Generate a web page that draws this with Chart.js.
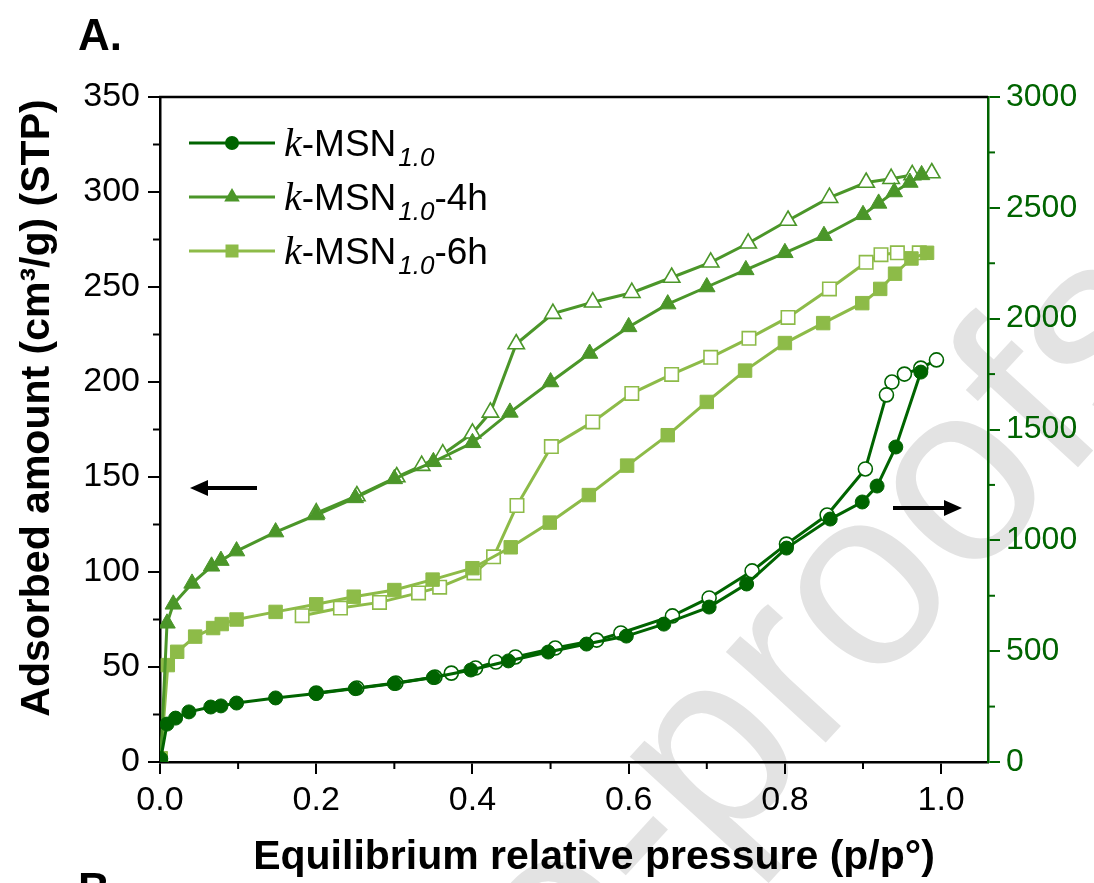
<!DOCTYPE html>
<html>
<head>
<meta charset="utf-8">
<script src="https://cdn.jsdelivr.net/npm/chart.js@4.4.0/dist/chart.umd.min.js"></script>
<style>
  html, body { margin: 0; padding: 0; background: #fff; }
  #wrap { width: 1094px; height: 883px; }
</style>
</head>
<body>
<div id="wrap"><canvas id="chart" width="1094" height="883"></canvas></div>
<script>
// Series data (p/p0 vs adsorbed amount)

// k-MSN1.0, plotted on the right axis
const msnAdsP = [0.001, 0.009, 0.02, 0.037, 0.065, 0.078, 0.098, 0.148, 0.2, 0.25, 0.3, 0.35, 0.398, 0.446, 0.497, 0.546, 0.597, 0.645, 0.703, 0.751, 0.802, 0.858, 0.899, 0.918, 0.942, 0.974];
const msnAdsV = [15, 171, 198, 226, 248, 253, 266, 289, 309, 331, 354, 381, 415, 456, 496, 532, 568, 622, 699, 803, 965, 1096, 1173, 1245, 1421, 1759];
const msnDesP = [0.994, 0.974, 0.953, 0.937, 0.930, 0.903, 0.854, 0.802, 0.758, 0.703, 0.656, 0.590, 0.559, 0.506, 0.455, 0.430, 0.404, 0.373, 0.352, 0.302, 0.252, 0.2];
const msnDesV = [1814, 1777, 1750, 1714, 1656, 1322, 1114, 983, 862, 740, 659, 582, 550, 514, 474, 451, 424, 401, 383, 356, 334, 311];

// k-MSN1.0-4h, left axis
const h4AdsP = [0.001, 0.009, 0.017, 0.041, 0.066, 0.078, 0.098, 0.148, 0.2, 0.25, 0.3, 0.35, 0.40, 0.448, 0.5, 0.55, 0.6, 0.65, 0.7, 0.75, 0.8, 0.85, 0.9, 0.92, 0.94, 0.96, 0.975];
const h4AdsV = [2, 73, 83, 94, 103, 106, 111, 121, 130, 139, 149, 158, 168, 184, 200, 215, 229, 241, 250, 259, 268, 277, 288, 294, 300, 305, 309];
const h4DesP = [0.988, 0.963, 0.936, 0.904, 0.857, 0.804, 0.753, 0.705, 0.655, 0.604, 0.554, 0.503, 0.456, 0.423, 0.40, 0.362, 0.335, 0.303, 0.252, 0.2];
const h4DesV = [310, 309, 307, 305, 297, 285, 273, 263, 255, 247, 242, 236, 220, 184, 173, 162, 156, 150, 140, 131];

// k-MSN1.0-6h, left axis
const h6AdsP = [0.001, 0.010, 0.022, 0.045, 0.068, 0.079, 0.098, 0.148, 0.2, 0.248, 0.3, 0.349, 0.4, 0.449, 0.499, 0.549, 0.598, 0.65, 0.7, 0.749, 0.8, 0.849, 0.899, 0.922, 0.941, 0.962, 0.982];
const h6AdsV = [2, 51, 58, 66, 70.5, 72.6, 75, 79, 83, 87, 90.5, 96, 102, 113, 126, 140.5, 156, 172, 189.5, 206, 220.5, 231, 241.5, 249, 257, 265, 268];
const h6DesP = [0.972, 0.944, 0.923, 0.904, 0.857, 0.804, 0.754, 0.705, 0.655, 0.604, 0.554, 0.501, 0.457, 0.427, 0.402, 0.358, 0.331, 0.281, 0.231, 0.182];
const h6DesV = [268, 268, 267, 263, 249, 234, 223, 213, 204, 194, 179, 166, 135, 108, 99.5, 92, 89, 84, 81, 77];

// Legend entries: name suffix after "k-MSN1.0"
const legendSuffixes = ['', '-4h', '-6h'];

// Minor tick positions
const xMinorTicks = [0.1, 0.3, 0.5, 0.7, 0.9];
const yMinorTicks = [25, 75, 125, 175, 225, 275, 325];
const y1MinorTicks = [250, 750, 1250, 1750, 2250, 2750];

const C_MSN = '#006400';
const C_4H = '#4b9629';
const C_6H = '#8dbb48';
const AXIS_GREEN = '#006400';

function toPoints(xs, ys) {
  return xs.map((x, i) => ({ x: x, y: ys[i] }));
}

function series(label, xs, ys, color, style, radius, open, axis) {
  return {
    label: label,
    data: toPoints(xs, ys),
    yAxisID: axis,
    borderColor: color,
    borderWidth: 3,
    pointStyle: style,
    pointRadius: radius,
    pointBorderWidth: open ? 1.6 : 1,
    pointBorderColor: color,
    pointBackgroundColor: open ? '#ffffff' : color,
    showLine: true,
    tension: 0
  };
}

function line(ctx, x1, y1, x2, y2) {
  ctx.beginPath();
  ctx.moveTo(x1, y1);
  ctx.lineTo(x2, y2);
  ctx.stroke();
}

function drawMarker(ctx, style, x, y, color) {
  ctx.fillStyle = color;
  ctx.beginPath();
  if (style === 'circle') {
    ctx.arc(x, y, 7, 0, Math.PI * 2);
  } else if (style === 'triangle') {
    const r = 9;
    ctx.moveTo(x, y - r);
    ctx.lineTo(x + r * 0.866, y + r * 0.5);
    ctx.lineTo(x - r * 0.866, y + r * 0.5);
    ctx.closePath();
  } else {
    ctx.rect(x - 6.5, y - 6.5, 13, 13);
  }
  ctx.fill();
}

function drawArrow(ctx, x1, x2, y) {
  // shaft from x1 to head tip at x2
  const dir = x2 > x1 ? 1 : -1;
  ctx.save();
  ctx.strokeStyle = '#000';
  ctx.fillStyle = '#000';
  ctx.lineWidth = 4;
  line(ctx, x1, y, x2 - dir * 14, y);
  ctx.beginPath();
  ctx.moveTo(x2, y);
  ctx.lineTo(x2 - dir * 18, y - 8);
  ctx.lineTo(x2 - dir * 18, y + 8);
  ctx.closePath();
  ctx.fill();
  ctx.restore();
}

const decorPlugin = {
  id: 'decor',
  beforeDraw(chart) {
    const ctx = chart.ctx;
    ctx.save();
    ctx.fillStyle = '#ffffff';
    ctx.fillRect(0, 0, chart.width, chart.height);
    // journal watermark
    ctx.translate(1145, 290);
    ctx.rotate(-47.5 * Math.PI / 180);
    ctx.font = '255px "Liberation Sans", Arial, sans-serif';
    ctx.fillStyle = '#e3e3e3';
    ctx.textAlign = 'right';
    ctx.textBaseline = 'middle';
    ctx.fillText('Journal Pre-proofs', 0, 0);
    ctx.restore();
  },
  afterDraw(chart) {
    const ctx = chart.ctx;
    const { x, y, y1 } = chart.scales;
    const area = chart.chartArea;
    ctx.save();

    // top frame line
    ctx.strokeStyle = '#000';
    ctx.lineWidth = 2.5;
    line(ctx, area.left - 1, area.top, area.right, area.top);

    // minor ticks
    ctx.lineWidth = 2;
    xMinorTicks.forEach(v => {
      const px = x.getPixelForValue(v);
      line(ctx, px, area.bottom, px, area.bottom + 7);
    });
    yMinorTicks.forEach(v => {
      const py = y.getPixelForValue(v);
      line(ctx, area.left, py, area.left - 7, py);
    });
    ctx.strokeStyle = AXIS_GREEN;
    y1MinorTicks.forEach(v => {
      const py = y1.getPixelForValue(v);
      line(ctx, area.right, py, area.right + 7, py);
    });

    // axis titles
    ctx.fillStyle = '#000';
    ctx.textAlign = 'center';
    ctx.textBaseline = 'middle';
    ctx.font = 'bold 41px "Liberation Sans", Arial, sans-serif';
    ctx.fillText('Equilibrium relative pressure (p/p°)', 594, 858);
    ctx.save();
    ctx.translate(38, 408);
    ctx.rotate(-Math.PI / 2);
    ctx.fillText('Adsorbed amount (cm³/g) (STP)', 0, 0);
    ctx.restore();

    // panel labels
    ctx.textAlign = 'left';
    ctx.textBaseline = 'alphabetic';
    ctx.font = 'bold 44px "Liberation Sans", Arial, sans-serif';
    ctx.fillText('A.', 78, 50);
    ctx.fillText('B.', 78, 904);

    // arrows pointing to the relevant axis
    drawArrow(ctx, 257, 190, 488);
    drawArrow(ctx, 893, 962, 508);

    // legend
    const colors = [C_MSN, C_4H, C_6H];
    const styles = ['circle', 'triangle', 'rect'];
    legendSuffixes.forEach((suffix, i) => {
      const ly = 143 + i * 54;
      ctx.strokeStyle = colors[i];
      ctx.lineWidth = 3;
      line(ctx, 189, ly, 275, ly);
      drawMarker(ctx, styles[i], 232, ly, colors[i]);
      let tx = 284;
      const base = ly + 13;
      ctx.fillStyle = '#000';
      ctx.font = 'italic 40px "Liberation Serif", "Times New Roman", serif';
      ctx.fillText('k', tx, base);
      tx += ctx.measureText('k').width;
      ctx.font = '37px "Liberation Sans", Arial, sans-serif';
      ctx.fillText('-MSN', tx, base);
      tx += ctx.measureText('-MSN').width;
      ctx.font = 'italic 26px "Liberation Sans", Arial, sans-serif';
      ctx.fillText('1.0', tx + 2, base + 10);
      tx += ctx.measureText('1.0').width + 2;
      if (suffix) {
        ctx.font = '37px "Liberation Sans", Arial, sans-serif';
        ctx.fillText(suffix, tx, base);
      }
    });

    ctx.restore();
  }
};

const ctx = document.getElementById('chart').getContext('2d');

new Chart(ctx, {
  type: 'scatter',
  data: {
    datasets: [
      series('k-MSN1.0 ads', msnAdsP, msnAdsV, C_MSN, 'circle', 7, false, 'y1'),
      series('k-MSN1.0 des', msnDesP, msnDesV, C_MSN, 'circle', 7, true, 'y1'),
      series('k-MSN1.0-4h ads', h4AdsP, h4AdsV, C_4H, 'triangle', 9.5, false, 'y'),
      series('k-MSN1.0-4h des', h4DesP, h4DesV, C_4H, 'triangle', 9.5, true, 'y'),
      series('k-MSN1.0-6h ads', h6AdsP, h6AdsV, C_6H, 'rect', 9.5, false, 'y'),
      series('k-MSN1.0-6h des', h6DesP, h6DesV, C_6H, 'rect', 9.5, true, 'y')
    ]
  },
  options: {
    responsive: false,
    animation: false,
    devicePixelRatio: 1,
    layout: { padding: { top: 97, left: 0, right: 0, bottom: 0 } },
    plugins: {
      legend: { display: false },
      tooltip: { enabled: false }
    },
    scales: {
      x: {
        type: 'linear',
        min: 0,
        max: 1.06,
        afterFit(scale) { scale.height = 121; },
        border: { display: true, color: '#000', width: 2.5 },
        grid: { drawOnChartArea: false, drawTicks: true, tickLength: 12, color: '#000', lineWidth: 2 },
        ticks: {
          stepSize: 0.2,
          includeBounds: false,
          autoSkip: false,
          maxRotation: 0,
          padding: 6,
          color: '#000',
          font: { family: '"Liberation Sans", Arial, sans-serif', size: 34 },
          callback: v => Number(v).toFixed(1)
        }
      },
      y: {
        type: 'linear',
        position: 'left',
        min: 0,
        max: 350,
        afterFit(scale) { scale.width = 160; },
        border: { display: true, color: '#000', width: 2.5 },
        grid: { drawOnChartArea: false, drawTicks: true, tickLength: 12, color: '#000', lineWidth: 2 },
        ticks: {
          stepSize: 50,
          padding: 8,
          color: '#000',
          font: { family: '"Liberation Sans", Arial, sans-serif', size: 34 },
          callback: v => String(v)
        }
      },
      y1: {
        type: 'linear',
        position: 'right',
        min: 0,
        max: 3000,
        afterFit(scale) { scale.width = 106; },
        border: { display: true, color: AXIS_GREEN, width: 2.5 },
        grid: { drawOnChartArea: false, drawTicks: true, tickLength: 12, color: AXIS_GREEN, lineWidth: 2 },
        ticks: {
          stepSize: 500,
          padding: 6,
          color: AXIS_GREEN,
          font: { family: '"Liberation Sans", Arial, sans-serif', size: 32 },
          callback: v => String(v)
        }
      }
    }
  },
  plugins: [decorPlugin]
});
</script>
</body>
</html>
